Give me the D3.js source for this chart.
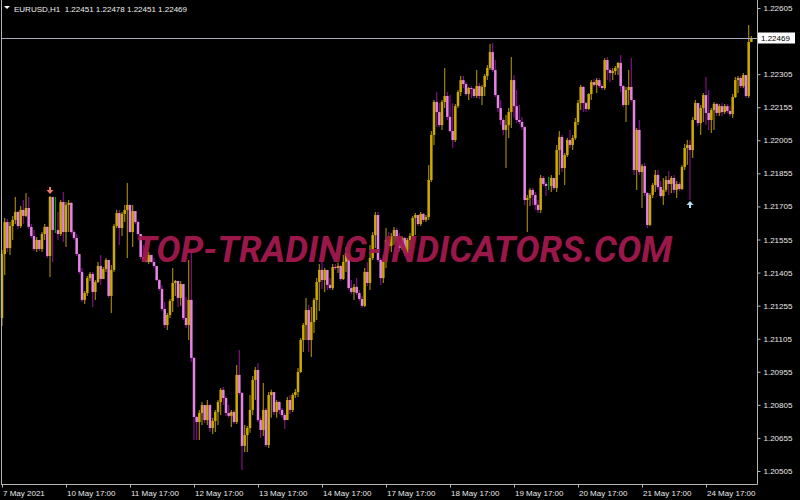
<!DOCTYPE html>
<html>
<head>
<meta charset="utf-8">
<script src="https://cdn.jsdelivr.net/npm/d3@7"></script>
<style>
  body { margin: 0; background: #000; }
  svg { display: block; }
  .axis text { font-family: "Liberation Sans", Arial, sans-serif; font-size: 8px; fill: #e8e8e8; }
  .axis line { stroke: #b4b4b4; }
</style>
</head>
<body>
<svg id="chart" width="800" height="500"></svg>
<script>
// EURUSD H1, 7 May 2021 17:00 -> 25 May 2021 10:00 (282 bars)
const symbol = "EURUSD";
const period = "H1";

// open of the very first bar, every other open is the close before it
const firstOpen = 1.21199;

const closes = [
  1.21489, 1.21634, 1.21516, 1.21616, 1.21644, 1.21680, 1.21616, 1.21689, 1.21662, 1.21698,
  1.21612, 1.21571, 1.21512, 1.21553, 1.21512, 1.21580, 1.21612, 1.21480, 1.21748, 1.21598,
  1.21598, 1.21580, 1.21725, 1.21589, 1.21712, 1.21721, 1.21589, 1.21562, 1.21489, 1.21408,
  1.21281, 1.21312, 1.21380, 1.21399, 1.21317, 1.21362, 1.21435, 1.21376, 1.21421, 1.21462,
  1.21299, 1.21417, 1.21616, 1.21675, 1.21607, 1.21671, 1.21689, 1.21712, 1.21589, 1.21684,
  1.21634, 1.21580, 1.21476, 1.21462, 1.21453, 1.21485, 1.21453, 1.21435, 1.21371, 1.21331,
  1.21240, 1.21167, 1.21213, 1.21276, 1.21358, 1.21367, 1.21290, 1.21353, 1.21199, 1.21167,
  1.21281, 1.21018, 1.20750, 1.20727, 1.20768, 1.20804, 1.20736, 1.20804, 1.20700, 1.20732,
  1.20773, 1.20818, 1.20873, 1.20836, 1.20768, 1.20755, 1.20773, 1.20727, 1.20941, 1.20859,
  1.20619, 1.20668, 1.20700, 1.20782, 1.20918, 1.20963, 1.20736, 1.20691, 1.20782, 1.20623,
  1.20850, 1.20863, 1.20773, 1.20818, 1.20782, 1.20759, 1.20736, 1.20827, 1.20782, 1.20850,
  1.20863, 1.20954, 1.21099, 1.21167, 1.21235, 1.21099, 1.21181, 1.21281, 1.21362, 1.21417,
  1.21371, 1.21417, 1.21349, 1.21335, 1.21430, 1.21426, 1.21435, 1.21376, 1.21453, 1.21494,
  1.21335, 1.21317, 1.21340, 1.21312, 1.21285, 1.21254, 1.21408, 1.21358, 1.21471, 1.21575,
  1.21666, 1.21462, 1.21380, 1.21453, 1.21553, 1.21526, 1.21571, 1.21598, 1.21544, 1.21516,
  1.21562, 1.21494, 1.21553, 1.21571, 1.21653, 1.21666, 1.21625, 1.21671, 1.21644, 1.21657,
  1.21825, 1.22029, 1.22179, 1.22133, 1.22074, 1.22179, 1.22206, 1.22111, 1.22047, 1.22006,
  1.22160, 1.22224, 1.22278, 1.22260, 1.22215, 1.22242, 1.22238, 1.22206, 1.22251, 1.22206,
  1.22247, 1.22297, 1.22333, 1.22405, 1.22324, 1.22210, 1.22151, 1.22097, 1.22052, 1.22074,
  1.22133, 1.22278, 1.22160, 1.22097, 1.22088, 1.22065, 1.21734, 1.21743, 1.21780, 1.21757,
  1.21712, 1.21689, 1.21834, 1.21807, 1.21798, 1.21798, 1.21834, 1.21789, 1.21961, 1.22020,
  1.21879, 1.21938, 1.22006, 1.21984, 1.22015, 1.22088, 1.22174, 1.22247, 1.22174, 1.22147,
  1.22215, 1.22269, 1.22256, 1.22278, 1.22251, 1.22242, 1.22369, 1.22324, 1.22310, 1.22319,
  1.22333, 1.22356, 1.22251, 1.22165, 1.22233, 1.22247, 1.22188, 1.21870, 1.22052, 1.21861,
  1.21888, 1.21766, 1.21621, 1.21757, 1.21802, 1.21848, 1.21793, 1.21752, 1.21780, 1.21825,
  1.21807, 1.21834, 1.21780, 1.21807, 1.21784, 1.21884, 1.21970, 1.21984, 1.21961, 1.22097,
  1.22174, 1.22083, 1.22151, 1.22210, 1.22129, 1.22097, 1.22142, 1.22170, 1.22129, 1.22160,
  1.22133, 1.22160, 1.22138, 1.22124, 1.22201, 1.22278, 1.22288, 1.22251, 1.22301, 1.22206,
  1.22451, 1.22469
];

const highs = [
  1.21507, 1.21653, 1.21648, 1.21634, 1.21662, 1.21748, 1.21684, 1.21707, 1.21734, 1.21766,
  1.21748, 1.21625, 1.21598, 1.21566, 1.21553, 1.21589, 1.21625, 1.21616, 1.21752, 1.21707,
  1.21748, 1.21680, 1.21734, 1.21771, 1.21725, 1.21734, 1.21725, 1.21598, 1.21580, 1.21480,
  1.21426, 1.21321, 1.21389, 1.21408, 1.21408, 1.21371, 1.21453, 1.21485, 1.21430, 1.21471,
  1.21453, 1.21439, 1.21625, 1.21689, 1.21689, 1.21680, 1.21712, 1.21811, 1.21707, 1.21712,
  1.21684, 1.21639, 1.21580, 1.21530, 1.21494, 1.21498, 1.21476, 1.21471, 1.21435, 1.21376,
  1.21349, 1.21272, 1.21222, 1.21285, 1.21426, 1.21371, 1.21367, 1.21367, 1.21353, 1.21294,
  1.21462, 1.21507, 1.21022, 1.20755, 1.20782, 1.20818, 1.20804, 1.20827, 1.20809, 1.20746,
  1.20782, 1.20827, 1.20882, 1.20886, 1.20845, 1.20804, 1.20782, 1.20782, 1.20986, 1.21054,
  1.20863, 1.20714, 1.20709, 1.20850, 1.20936, 1.20977, 1.20995, 1.20746, 1.20904, 1.20791,
  1.20863, 1.20873, 1.20863, 1.20827, 1.20823, 1.20791, 1.20768, 1.20841, 1.20850, 1.20859,
  1.20877, 1.20972, 1.21108, 1.21176, 1.21290, 1.21258, 1.21249, 1.21290, 1.21380, 1.21444,
  1.21467, 1.21426, 1.21417, 1.21380, 1.21444, 1.21444, 1.21449, 1.21439, 1.21485, 1.21521,
  1.21494, 1.21371, 1.21353, 1.21380, 1.21326, 1.21299, 1.21426, 1.21453, 1.21530, 1.21589,
  1.21680, 1.21680, 1.21471, 1.21485, 1.21607, 1.21589, 1.21585, 1.21612, 1.21607, 1.21585,
  1.21571, 1.21566, 1.21562, 1.21585, 1.21662, 1.21675, 1.21666, 1.21680, 1.21675, 1.21666,
  1.21893, 1.22047, 1.22188, 1.22224, 1.22174, 1.22188, 1.22333, 1.22224, 1.22210, 1.22174,
  1.22170, 1.22233, 1.22297, 1.22297, 1.22269, 1.22247, 1.22251, 1.22242, 1.22324, 1.22265,
  1.22256, 1.22306, 1.22347, 1.22442, 1.22446, 1.22369, 1.22206, 1.22188, 1.22106, 1.22120,
  1.22151, 1.22383, 1.22301, 1.22233, 1.22165, 1.22111, 1.22070, 1.21757, 1.21789, 1.21789,
  1.21771, 1.21734, 1.21848, 1.21843, 1.21816, 1.21839, 1.21848, 1.21825, 1.21984, 1.22047,
  1.22029, 1.21947, 1.22015, 1.22052, 1.22029, 1.22106, 1.22188, 1.22256, 1.22251, 1.22179,
  1.22220, 1.22278, 1.22283, 1.22288, 1.22288, 1.22260, 1.22378, 1.22383, 1.22333, 1.22333,
  1.22342, 1.22360, 1.22392, 1.22256, 1.22247, 1.22324, 1.22378, 1.22188, 1.22061, 1.22097,
  1.21898, 1.21902, 1.21771, 1.21766, 1.21811, 1.21870, 1.21870, 1.21820, 1.21834, 1.21843,
  1.21866, 1.21843, 1.21848, 1.21820, 1.21816, 1.21893, 1.21988, 1.22006, 1.22006, 1.22111,
  1.22188, 1.22142, 1.22165, 1.22220, 1.22292, 1.22233, 1.22151, 1.22179, 1.22174, 1.22170,
  1.22174, 1.22170, 1.22170, 1.22160, 1.22215, 1.22292, 1.22297, 1.22297, 1.22310, 1.22288,
  1.22528, 1.22478
];

const lows = [
  1.21163, 1.21394, 1.21498, 1.21485, 1.21553, 1.21625, 1.21603, 1.21607, 1.21625, 1.21657,
  1.21603, 1.21562, 1.21503, 1.21498, 1.21503, 1.21498, 1.21553, 1.21471, 1.21385, 1.21453,
  1.21585, 1.21553, 1.21571, 1.21544, 1.21521, 1.21589, 1.21580, 1.21553, 1.21480, 1.21399,
  1.21272, 1.21263, 1.21299, 1.21367, 1.21249, 1.21281, 1.21358, 1.21349, 1.21376, 1.21408,
  1.21290, 1.21222, 1.21408, 1.21607, 1.21530, 1.21571, 1.21634, 1.21471, 1.21585, 1.21521,
  1.21625, 1.21571, 1.21467, 1.21453, 1.21449, 1.21444, 1.21449, 1.21426, 1.21367, 1.21321,
  1.21231, 1.21154, 1.21145, 1.21199, 1.21226, 1.21299, 1.21249, 1.21254, 1.21190, 1.21154,
  1.21099, 1.20999, 1.20646, 1.20646, 1.20646, 1.20714, 1.20723, 1.20714, 1.20682, 1.20673,
  1.20682, 1.20714, 1.20759, 1.20804, 1.20755, 1.20746, 1.20705, 1.20718, 1.20718, 1.20850,
  1.20510, 1.20591, 1.20591, 1.20678, 1.20759, 1.20827, 1.20727, 1.20655, 1.20664, 1.20614,
  1.20609, 1.20746, 1.20759, 1.20746, 1.20764, 1.20746, 1.20696, 1.20736, 1.20764, 1.20773,
  1.20836, 1.20841, 1.20950, 1.21045, 1.21099, 1.21045, 1.21022, 1.21131, 1.21190, 1.21231,
  1.21331, 1.21317, 1.21326, 1.21326, 1.21326, 1.21417, 1.21403, 1.21367, 1.21371, 1.21408,
  1.21326, 1.21308, 1.21281, 1.21303, 1.21276, 1.21244, 1.21249, 1.21344, 1.21326, 1.21462,
  1.21516, 1.21453, 1.21349, 1.21358, 1.21426, 1.21507, 1.21498, 1.21530, 1.21535, 1.21498,
  1.21507, 1.21480, 1.21485, 1.21512, 1.21562, 1.21575, 1.21616, 1.21616, 1.21634, 1.21634,
  1.21644, 1.21816, 1.21984, 1.22065, 1.22065, 1.22052, 1.22151, 1.22097, 1.22043, 1.21970,
  1.21997, 1.22151, 1.22206, 1.22242, 1.22206, 1.22188, 1.22197, 1.22197, 1.22197, 1.22192,
  1.22165, 1.22206, 1.22278, 1.22324, 1.22315, 1.22201, 1.22133, 1.22074, 1.22029, 1.21879,
  1.22015, 1.22061, 1.22106, 1.22083, 1.22079, 1.22052, 1.21712, 1.21589, 1.21707, 1.21712,
  1.21689, 1.21675, 1.21675, 1.21798, 1.21752, 1.21780, 1.21771, 1.21780, 1.21771, 1.21848,
  1.21861, 1.21802, 1.21929, 1.21970, 1.21961, 1.22006, 1.22074, 1.22142, 1.22133, 1.22133,
  1.22142, 1.22188, 1.22247, 1.22220, 1.22242, 1.22233, 1.22233, 1.22278, 1.22269, 1.22278,
  1.22301, 1.22301, 1.22224, 1.22156, 1.22088, 1.22165, 1.22179, 1.21848, 1.21780, 1.21848,
  1.21698, 1.21752, 1.21607, 1.21616, 1.21743, 1.21771, 1.21780, 1.21743, 1.21712, 1.21771,
  1.21757, 1.21766, 1.21766, 1.21743, 1.21775, 1.21780, 1.21870, 1.21893, 1.21734, 1.21925,
  1.22106, 1.22070, 1.22029, 1.22088, 1.22074, 1.22052, 1.22038, 1.22052, 1.22115, 1.22115,
  1.22115, 1.22124, 1.22129, 1.22115, 1.22106, 1.22197, 1.22220, 1.22242, 1.22242, 1.22197,
  1.22197, 1.22451
];

// fractal arrows (bar index)
const fractalHighs = [18];
const fractalLows = [258];

// price scale labels
const yTicks = [1.22605, 1.22455, 1.22305, 1.22155, 1.22005, 1.21855, 1.21705, 1.21555,
                1.21405, 1.21255, 1.21105, 1.20955, 1.20805, 1.20655, 1.20505];

// time scale labels, one per trading day (24 bars)
const xTickBars = [0, 24, 48, 72, 96, 120, 144, 168, 192, 216, 240, 264];
const xTickLabels = ["7 May 2021", "10 May 17:00", "11 May 17:00", "12 May 17:00", "13 May 17:00",
  "14 May 17:00", "17 May 17:00", "18 May 17:00", "19 May 17:00", "20 May 17:00",
  "21 May 17:00", "24 May 17:00"];

const watermark = "TOP-TRADING-INDICATORS.COM";

const opens = closes.map((c, i) => i === 0 ? firstOpen : closes[i - 1]);
const bars = closes.map((c, i) => ({ i: i, o: opens[i], h: highs[i], l: lows[i], c: c }));

const svg = d3.select("#chart");
const W = 800, H = 500;
const plotRight = 757.5, plotBottom = 484.5;

svg.append("rect").attr("width", W).attr("height", H).attr("fill", "#000");

const x = d3.scaleLinear().domain([0, bars.length - 1]).range([2, 2 + (bars.length - 1) * 64 / 24]);
const y = d3.scaleLinear().domain([1.20505, 1.22605]).range([471, 8]);

const fmt = d3.format(".5f");
const last = bars[bars.length - 1];
const lastY = Math.round(y(last.c));

function barColors(d) {
  if (d.c > d.o) return { wick: "#9c8400", body: "#ccaa00" };
  if (d.c < d.o) return { wick: "#80108a", body: "#e684e6" };
  return { wick: "#00a800", body: null };   // doji drawn in line colour
}

// candles
let candles = svg.append("g").attr("class", "candles");

candles.selectAll("line")
  .data(bars)
  .join("line")
  .attr("x1", d => x(d.i))
  .attr("x2", d => x(d.i))
  .attr("y1", d => y(Math.max(d.h, d.o, d.c)))
  .attr("y2", d => y(Math.min(d.l, d.o, d.c)))
  .attr("stroke", d => barColors(d).wick)
  .attr("stroke-width", 1.2);

candles.selectAll("rect")
  .data(bars.filter(d => d.c !== d.o))
  .join("rect")
  .attr("x", d => x(d.i) - 1.25)
  .attr("width", 2.5)
  .attr("y", d => y(Math.max(d.o, d.c)))
  .attr("height", d => Math.max(1, Math.abs(y(d.o) - y(d.c))))
  .attr("fill", d => barColors(d).body);

// fractal arrows
const downArrow = "M-1,0 L1,0 L1,3 L3.5,3 L0,7 L-3.5,3 L-1,3 Z";
const upArrow = "M-1,7 L1,7 L1,4 L3.5,4 L0,0 L-3.5,4 L-1,4 Z";

svg.append("g").selectAll("path")
  .data(fractalHighs)
  .join("path")
  .attr("d", downArrow)
  .attr("transform", i => "translate(" + x(i) + "," + (y(highs[i]) - 9) + ")")
  .attr("fill", "#f47a68");

svg.append("g").selectAll("path")
  .data(fractalLows)
  .join("path")
  .attr("d", upArrow)
  .attr("transform", i => "translate(" + x(i) + "," + (y(lows[i]) + 1) + ")")
  .attr("fill", "#b4dcf4");

// watermark
svg.append("text")
  .attr("x", 135)
  .attr("y", 262)
  .attr("textLength", 537)
  .attr("lengthAdjust", "spacingAndGlyphs")
  .attr("font-family", "Roboto, 'DejaVu Sans', sans-serif")
  .attr("font-size", 36)
  .attr("font-weight", "bold")
  .attr("font-style", "italic")
  .attr("fill", "#a3194f")
  .attr("opacity", 0.95)
  .text(watermark);

// frame
const frame = svg.append("g").attr("stroke", "#b4b4b4").attr("stroke-width", 1);
frame.append("line").attr("x1", 1.5).attr("x2", 1.5).attr("y1", 0).attr("y2", plotBottom);
frame.append("line").attr("x1", plotRight).attr("x2", plotRight).attr("y1", 0).attr("y2", plotBottom);
frame.append("line").attr("x1", 1).attr("x2", plotRight).attr("y1", plotBottom).attr("y2", plotBottom);

// axes
let yAxis = svg.append("g")
  .attr("class", "axis")
  .attr("transform", "translate(" + plotRight + ",0)")
  .call(d3.axisRight(y).tickValues(yTicks).tickSize(3).tickPadding(3).tickFormat(fmt));
yAxis.select(".domain").remove();
// the price label box hides the scale label right under it
yAxis.selectAll(".tick text").filter(d => Math.abs(y(d) - lastY) < 10).remove();

let xAxis = svg.append("g")
  .attr("class", "axis")
  .attr("transform", "translate(0," + plotBottom + ")")
  .call(d3.axisBottom(x).tickValues(xTickBars).tickSize(3).tickPadding(3)
    .tickFormat((d, k) => xTickLabels[k]));
xAxis.select(".domain").remove();
xAxis.selectAll("text").attr("text-anchor", "start").attr("x", 0.5);

// current price line and label
svg.append("line")
  .attr("x1", 2).attr("x2", plotRight)
  .attr("y1", lastY + 0.5).attr("y2", lastY + 0.5)
  .attr("stroke", "#a8acb4");

svg.append("rect")
  .attr("x", 758).attr("y", lastY - 5.5)
  .attr("width", 37).attr("height", 11)
  .attr("fill", "#fff");
svg.append("text")
  .attr("x", 761).attr("y", lastY + 3)
  .attr("font-family", "Liberation Sans, Arial, sans-serif")
  .attr("font-size", 8)
  .attr("fill", "#000")
  .text(fmt(last.c));

// header
svg.append("path").attr("d", "M4,6 L10,6 L7,9 Z").attr("fill", "#fff");
svg.append("text")
  .attr("x", 14).attr("y", 11.5)
  .attr("font-family", "Liberation Sans, Arial, sans-serif")
  .attr("font-size", 8)
  .attr("fill", "#f0f0f0")
  .style("white-space", "pre")
  .text(symbol + "," + period + "  " + fmt(last.o) + " " + fmt(last.h) + " " + fmt(last.l) + " " + fmt(last.c));
</script>
</body>
</html>
